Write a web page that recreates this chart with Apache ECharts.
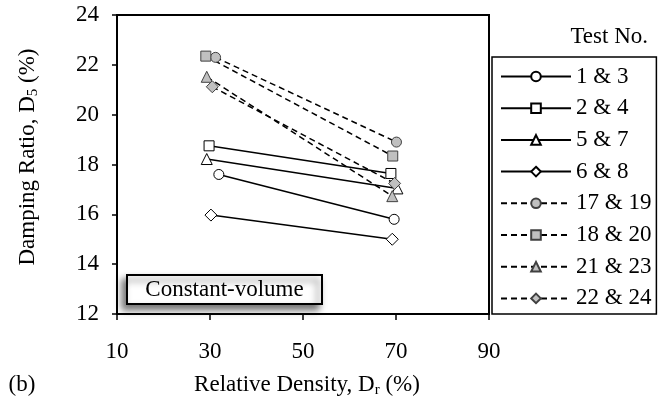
<!DOCTYPE html>
<html>
<head>
<meta charset="utf-8">
<script src="https://cdn.jsdelivr.net/npm/echarts@6/dist/echarts.min.js"></script>
<style>
  html, body { margin: 0; padding: 0; background: #fff; }
  #chart { width: 661px; height: 407px; }
</style>
</head>
<body>
<div id="chart"></div>
<script>
// Test pairs and their relative density / damping ratio end points
const tests = ['1 & 3', '2 & 4', '5 & 7', '6 & 8', '17 & 19', '18 & 20', '21 & 23', '22 & 24'];
const relDensity = [
  [31.9, 69.6], [29.8, 68.9], [29.3, 70.3], [30.2, 69.2],
  [31.2, 70.1], [29.1, 69.3], [29.3, 69.2], [30.5, 69.7]
];
const damping = [
  [17.6, 15.8], [18.75, 17.64], [18.22, 17.04], [15.97, 15.0],
  [22.3, 18.9], [22.35, 18.34], [21.52, 16.73], [21.12, 17.24]
];
const markers = ['circle', 'rect', 'triangle', 'diamond', 'circle', 'rect', 'triangle', 'diamond'];
const xTicks = [10, 30, 50, 70, 90];
const yTicks = [12, 14, 16, 18, 20, 22, 24];

const FONT = "'Liberation Serif', 'Times New Roman', serif";
const FS = 23;
const markerSize = { circle: 10, rect: 10, triangle: 11, diamond: 12 };

const series = tests.map((name, i) => {
  const filled = i >= 4;
  return {
    name: name,
    type: 'line',
    data: relDensity[i].map((x, k) => [x, damping[i][k]]),
    symbol: markers[i],
    symbolSize: markerSize[markers[i]],
    showAllSymbol: true,
    lineStyle: {
      color: '#000',
      width: 1.5,
      type: filled ? [6, 4] : 'solid'
    },
    itemStyle: {
      color: filled ? '#c0c0c0' : '#fff',
      borderColor: filled ? '#404040' : '#000',
      borderWidth: 1
    },
    emphasis: { disabled: true },
    animation: false
  };
});

const chart = echarts.init(document.getElementById('chart'), null, { renderer: 'canvas' });
chart.setOption({
  backgroundColor: '#fff',
  animation: false,
  textStyle: { fontFamily: FONT },
  grid: {
    left: 117, top: 15, right: 172, bottom: 93,
    show: true, borderColor: '#000', borderWidth: 2
  },
  xAxis: {
    type: 'value',
    min: xTicks[0], max: xTicks[xTicks.length - 1], interval: 20,
    axisLine: { show: true, onZero: false, lineStyle: { color: '#000', width: 2 } },
    axisTick: { show: true, inside: false, length: 6, lineStyle: { color: '#000', width: 1.5 } },
    axisLabel: { color: '#000', fontSize: FS, fontFamily: FONT, margin: 26 },
    splitLine: { show: false }
  },
  yAxis: {
    type: 'value',
    min: yTicks[0], max: yTicks[yTicks.length - 1], interval: 2,
    axisLine: { show: true, onZero: false, lineStyle: { color: '#000', width: 2 } },
    axisTick: { show: true, inside: false, length: 5, lineStyle: { color: '#000', width: 1.5 } },
    axisLabel: { color: '#000', fontSize: FS, fontFamily: FONT, margin: 18 },
    splitLine: { show: false }
  },
  legend: {
    orient: 'vertical',
    left: 492, top: 57,
    padding: [8, 5, 4, 8],
    itemWidth: 70, itemHeight: 12, itemGap: 8.7,
    borderColor: '#000', borderWidth: 1.5,
    backgroundColor: '#fff',
    textStyle: { color: '#000', fontSize: FS, fontFamily: FONT, lineHeight: 23 },
    data: tests
  },
  graphic: [
    {
      type: 'text', x: 648, y: 37,
      style: {
        text: 'Test No.', fill: '#000', font: FS + 'px ' + FONT,
        textAlign: 'right', textVerticalAlign: 'middle'
      }
    },
    {
      type: 'text', x: 307, y: 385,
      style: {
        text: '{a|Relative Density, D}{s|r}{a| (%)}',
        textAlign: 'center', textVerticalAlign: 'middle',
        rich: {
          a: { fontSize: FS, fontFamily: FONT, fill: '#000', lineHeight: 25 },
          s: { fontSize: 15, fontFamily: FONT, fill: '#000', verticalAlign: 'bottom', lineHeight: 15, padding: [8, 0, 0, 0] }
        }
      }
    },
    {
      type: 'text', x: 22, y: 385,
      style: {
        text: '(b)', fill: '#000', font: FS + 'px ' + FONT,
        textAlign: 'center', textVerticalAlign: 'middle'
      }
    },
    {
      type: 'text', x: 28, y: 157, rotation: Math.PI / 2,
      style: {
        text: '{a|Damping Ratio, D}{s|5}{a| (%)}',
        textAlign: 'center', textVerticalAlign: 'middle',
        rich: {
          a: { fontSize: FS, fontFamily: FONT, fill: '#000', lineHeight: 25 },
          s: { fontSize: 15, fontFamily: FONT, fill: '#000', verticalAlign: 'bottom', lineHeight: 15, padding: [8, 0, 0, 0] }
        }
      }
    },
    {
      type: 'rect', z: 100,
      shape: { x: 127, y: 275, width: 195, height: 29 },
      style: {
        fill: '#fff', stroke: '#000', lineWidth: 2,
        shadowColor: 'rgba(0,0,0,0.55)', shadowBlur: 7, shadowOffsetX: -4, shadowOffsetY: 5
      }
    },
    {
      type: 'text', z: 101, x: 224.5, y: 290,
      style: {
        text: 'Constant-volume', fill: '#000', font: FS + 'px ' + FONT,
        textAlign: 'center', textVerticalAlign: 'middle'
      }
    }
  ],
  series: series
});
</script>
</body>
</html>
